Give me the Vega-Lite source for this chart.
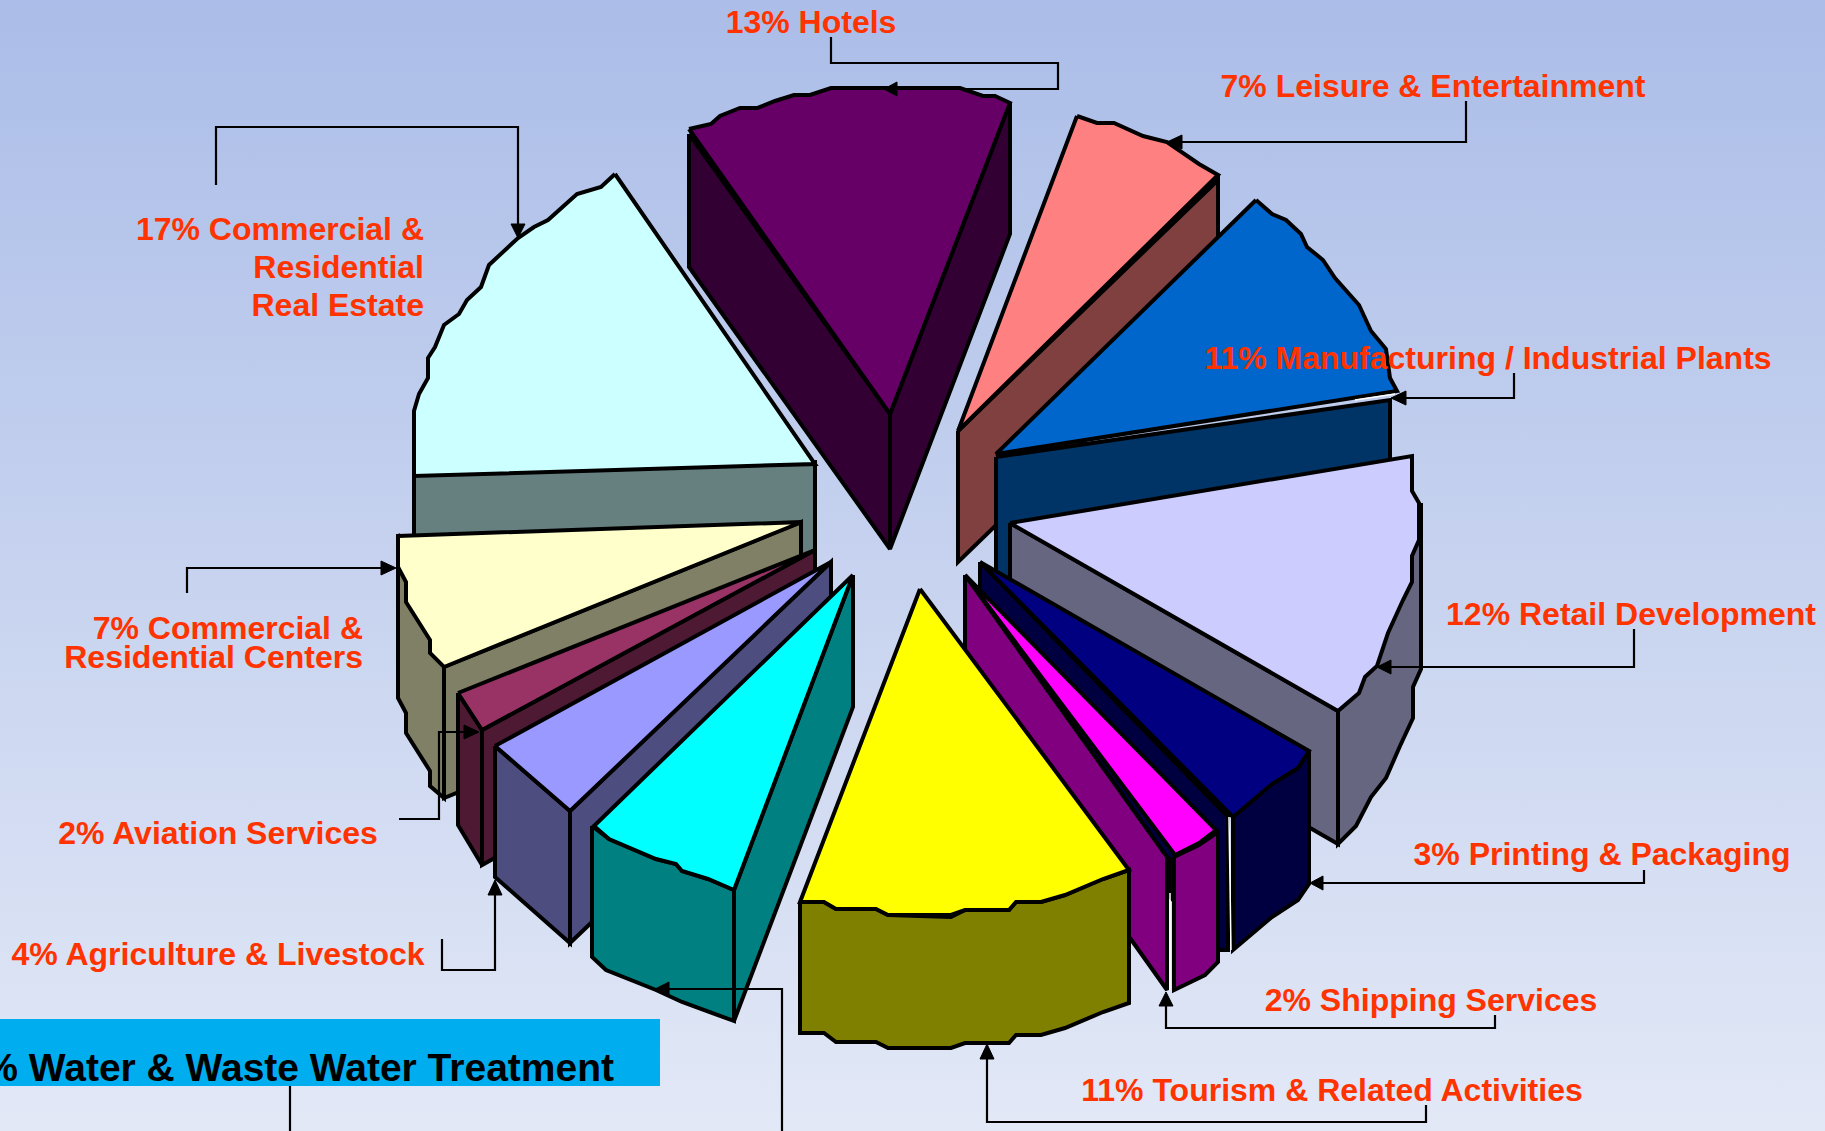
{"$schema":"https://vega.github.io/schema/vega-lite/v6.json","width":1825,"height":1131,"padding":0,"autosize":{"type":"none"},"config":{"view":{"stroke":null}},
"datasets":{
"bg":[{"x":0,"x2":1825,"y":0,"y2":1131}],
"box":[{"x":0,"x2":660,"y":1019,"y2":1086}],
"faces":[
{"f":"Hotels left","i":1,"x":689,"y":134},{"f":"Hotels left","i":2,"x":689,"y":267},{"f":"Hotels left","i":3,"x":890,"y":549},{"f":"Hotels left","i":4,"x":890,"y":414},{"f":"Hotels left","i":5,"x":689,"y":134},
{"f":"Hotels right","i":1,"x":890,"y":414},{"f":"Hotels right","i":2,"x":1010,"y":103},{"f":"Hotels right","i":3,"x":1010,"y":234},{"f":"Hotels right","i":4,"x":890,"y":549},{"f":"Hotels right","i":5,"x":890,"y":414},
{"f":"Hotels top","i":1,"x":689,"y":129},{"f":"Hotels top","i":2,"x":711,"y":124},{"f":"Hotels top","i":3,"x":720,"y":116},{"f":"Hotels top","i":4,"x":740,"y":108},{"f":"Hotels top","i":5,"x":757,"y":108},{"f":"Hotels top","i":6,"x":775,"y":101},{"f":"Hotels top","i":7,"x":794,"y":95},{"f":"Hotels top","i":8,"x":810,"y":95},{"f":"Hotels top","i":9,"x":831,"y":88},{"f":"Hotels top","i":10,"x":960,"y":88},{"f":"Hotels top","i":11,"x":983,"y":96},{"f":"Hotels top","i":12,"x":995,"y":96},{"f":"Hotels top","i":13,"x":1010,"y":103},{"f":"Hotels top","i":14,"x":890,"y":414},{"f":"Hotels top","i":15,"x":689,"y":129},
{"f":"Leisure side","i":1,"x":958,"y":431},{"f":"Leisure side","i":2,"x":1218,"y":180},{"f":"Leisure side","i":3,"x":1218,"y":310},{"f":"Leisure side","i":4,"x":958,"y":562},{"f":"Leisure side","i":5,"x":958,"y":431},
{"f":"Leisure top","i":1,"x":1077,"y":116},{"f":"Leisure top","i":2,"x":1097,"y":123},{"f":"Leisure top","i":3,"x":1114,"y":123},{"f":"Leisure top","i":4,"x":1143,"y":136},{"f":"Leisure top","i":5,"x":1167,"y":142},{"f":"Leisure top","i":6,"x":1199,"y":164},{"f":"Leisure top","i":7,"x":1218,"y":175},{"f":"Leisure top","i":8,"x":958,"y":431},{"f":"Leisure top","i":9,"x":1077,"y":116},
{"f":"Manufacturing side","i":1,"x":996,"y":457},{"f":"Manufacturing side","i":2,"x":1390,"y":400},{"f":"Manufacturing side","i":3,"x":1390,"y":530},{"f":"Manufacturing side","i":4,"x":996,"y":590},{"f":"Manufacturing side","i":5,"x":996,"y":457},
{"f":"Manufacturing top","i":1,"x":1256,"y":200},{"f":"Manufacturing top","i":2,"x":1272,"y":214},{"f":"Manufacturing top","i":3,"x":1286,"y":220},{"f":"Manufacturing top","i":4,"x":1301,"y":234},{"f":"Manufacturing top","i":5,"x":1307,"y":247},{"f":"Manufacturing top","i":6,"x":1323,"y":260},{"f":"Manufacturing top","i":7,"x":1335,"y":278},{"f":"Manufacturing top","i":8,"x":1359,"y":305},{"f":"Manufacturing top","i":9,"x":1371,"y":331},{"f":"Manufacturing top","i":10,"x":1386,"y":349},{"f":"Manufacturing top","i":11,"x":1390,"y":378},{"f":"Manufacturing top","i":12,"x":1397,"y":391},{"f":"Manufacturing top","i":13,"x":996,"y":454},{"f":"Manufacturing top","i":14,"x":1256,"y":200},
{"f":"Estate side","i":1,"x":414,"y":474},{"f":"Estate side","i":2,"x":815,"y":462},{"f":"Estate side","i":3,"x":815,"y":592},{"f":"Estate side","i":4,"x":414,"y":605},{"f":"Estate side","i":5,"x":414,"y":474},
{"f":"Estate top","i":1,"x":615,"y":174},{"f":"Estate top","i":2,"x":601,"y":187},{"f":"Estate top","i":3,"x":577,"y":194},{"f":"Estate top","i":4,"x":548,"y":220},{"f":"Estate top","i":5,"x":534,"y":227},{"f":"Estate top","i":6,"x":518,"y":238},{"f":"Estate top","i":7,"x":489,"y":265},{"f":"Estate top","i":8,"x":481,"y":287},{"f":"Estate top","i":9,"x":467,"y":300},{"f":"Estate top","i":10,"x":459,"y":314},{"f":"Estate top","i":11,"x":444,"y":325},{"f":"Estate top","i":12,"x":435,"y":347},{"f":"Estate top","i":13,"x":428,"y":358},{"f":"Estate top","i":14,"x":428,"y":378},{"f":"Estate top","i":15,"x":419,"y":394},{"f":"Estate top","i":16,"x":414,"y":411},{"f":"Estate top","i":17,"x":414,"y":476},{"f":"Estate top","i":18,"x":815,"y":464},{"f":"Estate top","i":19,"x":615,"y":174},
{"f":"Retail outer","i":1,"x":1421,"y":503},{"f":"Retail outer","i":2,"x":1421,"y":669},{"f":"Retail outer","i":3,"x":1413,"y":687},{"f":"Retail outer","i":4,"x":1413,"y":718},{"f":"Retail outer","i":5,"x":1400,"y":746},{"f":"Retail outer","i":6,"x":1386,"y":778},{"f":"Retail outer","i":7,"x":1371,"y":797},{"f":"Retail outer","i":8,"x":1356,"y":826},{"f":"Retail outer","i":9,"x":1338,"y":844},{"f":"Retail outer","i":10,"x":1338,"y":711},{"f":"Retail outer","i":11,"x":1421,"y":503},
{"f":"Retail inner","i":1,"x":1010,"y":523},{"f":"Retail inner","i":2,"x":1338,"y":711},{"f":"Retail inner","i":3,"x":1338,"y":844},{"f":"Retail inner","i":4,"x":1010,"y":655},{"f":"Retail inner","i":5,"x":1010,"y":523},
{"f":"Retail top","i":1,"x":1010,"y":523},{"f":"Retail top","i":2,"x":1412,"y":456},{"f":"Retail top","i":3,"x":1412,"y":491},{"f":"Retail top","i":4,"x":1419,"y":503},{"f":"Retail top","i":5,"x":1419,"y":540},{"f":"Retail top","i":6,"x":1412,"y":556},{"f":"Retail top","i":7,"x":1412,"y":582},{"f":"Retail top","i":8,"x":1403,"y":600},{"f":"Retail top","i":9,"x":1388,"y":633},{"f":"Retail top","i":10,"x":1377,"y":666},{"f":"Retail top","i":11,"x":1365,"y":677},{"f":"Retail top","i":12,"x":1359,"y":693},{"f":"Retail top","i":13,"x":1338,"y":711},{"f":"Retail top","i":14,"x":1010,"y":523},
{"f":"Printing wall","i":1,"x":980,"y":562},{"f":"Printing wall","i":2,"x":1228,"y":817},{"f":"Printing wall","i":3,"x":1228,"y":950},{"f":"Printing wall","i":4,"x":1219,"y":950},{"f":"Printing wall","i":5,"x":980,"y":690},{"f":"Printing wall","i":6,"x":980,"y":562},
{"f":"Printing outer","i":1,"x":1233,"y":817},{"f":"Printing outer","i":2,"x":1272,"y":784},{"f":"Printing outer","i":3,"x":1298,"y":768},{"f":"Printing outer","i":4,"x":1309,"y":751},{"f":"Printing outer","i":5,"x":1309,"y":884},{"f":"Printing outer","i":6,"x":1298,"y":900},{"f":"Printing outer","i":7,"x":1272,"y":917},{"f":"Printing outer","i":8,"x":1233,"y":950},{"f":"Printing outer","i":9,"x":1233,"y":817},
{"f":"Printing top","i":1,"x":980,"y":562},{"f":"Printing top","i":2,"x":1309,"y":751},{"f":"Printing top","i":3,"x":1298,"y":768},{"f":"Printing top","i":4,"x":1272,"y":784},{"f":"Printing top","i":5,"x":1233,"y":817},{"f":"Printing top","i":6,"x":980,"y":562},
{"f":"Centers wall","i":1,"x":398,"y":534},{"f":"Centers wall","i":2,"x":398,"y":698},{"f":"Centers wall","i":3,"x":406,"y":713},{"f":"Centers wall","i":4,"x":406,"y":733},{"f":"Centers wall","i":5,"x":430,"y":771},{"f":"Centers wall","i":6,"x":430,"y":786},{"f":"Centers wall","i":7,"x":444,"y":798},{"f":"Centers wall","i":8,"x":444,"y":667},{"f":"Centers wall","i":9,"x":398,"y":534},
{"f":"Centers inner","i":1,"x":444,"y":667},{"f":"Centers inner","i":2,"x":801,"y":522},{"f":"Centers inner","i":3,"x":801,"y":653},{"f":"Centers inner","i":4,"x":444,"y":798},{"f":"Centers inner","i":5,"x":444,"y":667},
{"f":"Centers top","i":1,"x":398,"y":536},{"f":"Centers top","i":2,"x":802,"y":522},{"f":"Centers top","i":3,"x":444,"y":667},{"f":"Centers top","i":4,"x":430,"y":653},{"f":"Centers top","i":5,"x":430,"y":640},{"f":"Centers top","i":6,"x":406,"y":602},{"f":"Centers top","i":7,"x":406,"y":582},{"f":"Centers top","i":8,"x":398,"y":567},{"f":"Centers top","i":9,"x":398,"y":536},
{"f":"Aviation inner","i":1,"x":482,"y":730},{"f":"Aviation inner","i":2,"x":815,"y":550},{"f":"Aviation inner","i":3,"x":815,"y":680},{"f":"Aviation inner","i":4,"x":482,"y":865},{"f":"Aviation inner","i":5,"x":482,"y":730},
{"f":"Aviation wall","i":1,"x":458,"y":693},{"f":"Aviation wall","i":2,"x":482,"y":730},{"f":"Aviation wall","i":3,"x":482,"y":865},{"f":"Aviation wall","i":4,"x":458,"y":825},{"f":"Aviation wall","i":5,"x":458,"y":693},
{"f":"Aviation top","i":1,"x":458,"y":693},{"f":"Aviation top","i":2,"x":815,"y":550},{"f":"Aviation top","i":3,"x":482,"y":730},{"f":"Aviation top","i":4,"x":458,"y":693},
{"f":"Agriculture inner","i":1,"x":570,"y":811},{"f":"Agriculture inner","i":2,"x":831,"y":562},{"f":"Agriculture inner","i":3,"x":831,"y":694},{"f":"Agriculture inner","i":4,"x":570,"y":943},{"f":"Agriculture inner","i":5,"x":570,"y":811},
{"f":"Agriculture wall","i":1,"x":495,"y":746},{"f":"Agriculture wall","i":2,"x":570,"y":811},{"f":"Agriculture wall","i":3,"x":570,"y":943},{"f":"Agriculture wall","i":4,"x":495,"y":877},{"f":"Agriculture wall","i":5,"x":495,"y":746},
{"f":"Agriculture top","i":1,"x":495,"y":746},{"f":"Agriculture top","i":2,"x":831,"y":562},{"f":"Agriculture top","i":3,"x":570,"y":811},{"f":"Agriculture top","i":4,"x":495,"y":746},
{"f":"Water right","i":1,"x":853,"y":575},{"f":"Water right","i":2,"x":853,"y":707},{"f":"Water right","i":3,"x":734,"y":1021},{"f":"Water right","i":4,"x":734,"y":890},{"f":"Water right","i":5,"x":853,"y":575},
{"f":"Water front","i":1,"x":592,"y":826},{"f":"Water front","i":2,"x":609,"y":839},{"f":"Water front","i":3,"x":656,"y":859},{"f":"Water front","i":4,"x":676,"y":864},{"f":"Water front","i":5,"x":682,"y":871},{"f":"Water front","i":6,"x":708,"y":879},{"f":"Water front","i":7,"x":734,"y":890},{"f":"Water front","i":8,"x":734,"y":1021},{"f":"Water front","i":9,"x":682,"y":1002},{"f":"Water front","i":10,"x":656,"y":990},{"f":"Water front","i":11,"x":606,"y":970},{"f":"Water front","i":12,"x":592,"y":957},{"f":"Water front","i":13,"x":592,"y":826},
{"f":"Water top","i":1,"x":853,"y":575},{"f":"Water top","i":2,"x":594,"y":826},{"f":"Water top","i":3,"x":609,"y":839},{"f":"Water top","i":4,"x":656,"y":859},{"f":"Water top","i":5,"x":676,"y":864},{"f":"Water top","i":6,"x":682,"y":871},{"f":"Water top","i":7,"x":708,"y":879},{"f":"Water top","i":8,"x":734,"y":890},{"f":"Water top","i":9,"x":853,"y":575},
{"f":"Shipping top","i":1,"x":965,"y":575},{"f":"Shipping top","i":2,"x":1216,"y":830},{"f":"Shipping top","i":3,"x":1199,"y":843},{"f":"Shipping top","i":4,"x":1175,"y":855},{"f":"Shipping top","i":5,"x":965,"y":575},
{"f":"Shipping outer","i":1,"x":1174,"y":857},{"f":"Shipping outer","i":2,"x":1199,"y":845},{"f":"Shipping outer","i":3,"x":1218,"y":832},{"f":"Shipping outer","i":4,"x":1218,"y":962},{"f":"Shipping outer","i":5,"x":1205,"y":975},{"f":"Shipping outer","i":6,"x":1174,"y":990},{"f":"Shipping outer","i":7,"x":1174,"y":857},
{"f":"Shipping wall","i":1,"x":965,"y":575},{"f":"Shipping wall","i":2,"x":1167,"y":857},{"f":"Shipping wall","i":3,"x":1167,"y":990},{"f":"Shipping wall","i":4,"x":965,"y":706},{"f":"Shipping wall","i":5,"x":965,"y":575},
{"f":"Tourism front","i":1,"x":800,"y":902},{"f":"Tourism front","i":2,"x":824,"y":902},{"f":"Tourism front","i":3,"x":836,"y":909},{"f":"Tourism front","i":4,"x":876,"y":909},{"f":"Tourism front","i":5,"x":888,"y":915},{"f":"Tourism front","i":6,"x":951,"y":917},{"f":"Tourism front","i":7,"x":965,"y":910},{"f":"Tourism front","i":8,"x":1009,"y":910},{"f":"Tourism front","i":9,"x":1016,"y":902},{"f":"Tourism front","i":10,"x":1041,"y":902},{"f":"Tourism front","i":11,"x":1065,"y":895},{"f":"Tourism front","i":12,"x":1103,"y":879},{"f":"Tourism front","i":13,"x":1129,"y":870},{"f":"Tourism front","i":14,"x":1129,"y":1003},{"f":"Tourism front","i":15,"x":1103,"y":1012},{"f":"Tourism front","i":16,"x":1065,"y":1028},{"f":"Tourism front","i":17,"x":1041,"y":1035},{"f":"Tourism front","i":18,"x":1016,"y":1035},{"f":"Tourism front","i":19,"x":1009,"y":1043},{"f":"Tourism front","i":20,"x":965,"y":1043},{"f":"Tourism front","i":21,"x":951,"y":1048},{"f":"Tourism front","i":22,"x":888,"y":1048},{"f":"Tourism front","i":23,"x":876,"y":1042},{"f":"Tourism front","i":24,"x":836,"y":1042},{"f":"Tourism front","i":25,"x":824,"y":1033},{"f":"Tourism front","i":26,"x":800,"y":1033},{"f":"Tourism front","i":27,"x":800,"y":902},
{"f":"Tourism top","i":1,"x":920,"y":589},{"f":"Tourism top","i":2,"x":1129,"y":870},{"f":"Tourism top","i":3,"x":1103,"y":879},{"f":"Tourism top","i":4,"x":1065,"y":895},{"f":"Tourism top","i":5,"x":1041,"y":902},{"f":"Tourism top","i":6,"x":1016,"y":902},{"f":"Tourism top","i":7,"x":1009,"y":910},{"f":"Tourism top","i":8,"x":965,"y":910},{"f":"Tourism top","i":9,"x":951,"y":915},{"f":"Tourism top","i":10,"x":888,"y":915},{"f":"Tourism top","i":11,"x":876,"y":909},{"f":"Tourism top","i":12,"x":836,"y":909},{"f":"Tourism top","i":13,"x":824,"y":902},{"f":"Tourism top","i":14,"x":800,"y":902},{"f":"Tourism top","i":15,"x":920,"y":589}
],
"leaders":[
{"l":"Hotels","i":1,"x":831,"y":37},{"l":"Hotels","i":2,"x":831,"y":63},{"l":"Hotels","i":3,"x":1058,"y":63},{"l":"Hotels","i":4,"x":1058,"y":89},{"l":"Hotels","i":5,"x":892,"y":89},
{"l":"Leisure","i":1,"x":1466,"y":101},{"l":"Leisure","i":2,"x":1466,"y":142},{"l":"Leisure","i":3,"x":1180,"y":142},
{"l":"Manufacturing","i":1,"x":1514,"y":373},{"l":"Manufacturing","i":2,"x":1514,"y":398},{"l":"Manufacturing","i":3,"x":1404,"y":398},
{"l":"Retail","i":1,"x":1634,"y":629},{"l":"Retail","i":2,"x":1634,"y":667},{"l":"Retail","i":3,"x":1390,"y":667},
{"l":"Printing","i":1,"x":1644,"y":870},{"l":"Printing","i":2,"x":1644,"y":883},{"l":"Printing","i":3,"x":1322,"y":883},
{"l":"Shipping","i":1,"x":1495,"y":1015},{"l":"Shipping","i":2,"x":1495,"y":1028},{"l":"Shipping","i":3,"x":1166,"y":1028},{"l":"Shipping","i":4,"x":1166,"y":1005},
{"l":"Tourism","i":1,"x":1426,"y":1105},{"l":"Tourism","i":2,"x":1426,"y":1122},{"l":"Tourism","i":3,"x":987,"y":1122},{"l":"Tourism","i":4,"x":987,"y":1058},
{"l":"Water","i":1,"x":782,"y":1131},{"l":"Water","i":2,"x":782,"y":989},{"l":"Water","i":3,"x":668,"y":989},
{"l":"WaterBox","i":1,"x":290,"y":1086},{"l":"WaterBox","i":2,"x":290,"y":1131},
{"l":"Agriculture","i":1,"x":442,"y":939},{"l":"Agriculture","i":2,"x":442,"y":970},{"l":"Agriculture","i":3,"x":495,"y":970},{"l":"Agriculture","i":4,"x":495,"y":894},
{"l":"Aviation","i":1,"x":399,"y":819},{"l":"Aviation","i":2,"x":439,"y":819},{"l":"Aviation","i":3,"x":439,"y":732},{"l":"Aviation","i":4,"x":465,"y":732},
{"l":"Centers","i":1,"x":187,"y":593},{"l":"Centers","i":2,"x":187,"y":568},{"l":"Centers","i":3,"x":382,"y":568},
{"l":"Estate","i":1,"x":216,"y":185},{"l":"Estate","i":2,"x":216,"y":127},{"l":"Estate","i":3,"x":518,"y":127},{"l":"Estate","i":4,"x":518,"y":225},
{"l":"ShippingJoin","i":1,"x":1170,"y":857},{"l":"ShippingJoin","i":2,"x":1170,"y":893}
],
"heads":[
{"l":"Hotels","i":1,"x":884,"y":89},{"l":"Hotels","i":2,"x":897,"y":82},{"l":"Hotels","i":3,"x":897,"y":96},{"l":"Hotels","i":4,"x":884,"y":89},
{"l":"Leisure","i":1,"x":1167,"y":142},{"l":"Leisure","i":2,"x":1182,"y":135},{"l":"Leisure","i":3,"x":1182,"y":149},{"l":"Leisure","i":4,"x":1167,"y":142},
{"l":"Manufacturing","i":1,"x":1391,"y":398},{"l":"Manufacturing","i":2,"x":1406,"y":391},{"l":"Manufacturing","i":3,"x":1406,"y":405},{"l":"Manufacturing","i":4,"x":1391,"y":398},
{"l":"Retail","i":1,"x":1377,"y":667},{"l":"Retail","i":2,"x":1391,"y":660},{"l":"Retail","i":3,"x":1391,"y":674},{"l":"Retail","i":4,"x":1377,"y":667},
{"l":"Printing","i":1,"x":1310,"y":883},{"l":"Printing","i":2,"x":1323,"y":876},{"l":"Printing","i":3,"x":1323,"y":890},{"l":"Printing","i":4,"x":1310,"y":883},
{"l":"Shipping","i":1,"x":1166,"y":992},{"l":"Shipping","i":2,"x":1159,"y":1006},{"l":"Shipping","i":3,"x":1173,"y":1006},{"l":"Shipping","i":4,"x":1166,"y":992},
{"l":"Tourism","i":1,"x":987,"y":1044},{"l":"Tourism","i":2,"x":980,"y":1059},{"l":"Tourism","i":3,"x":994,"y":1059},{"l":"Tourism","i":4,"x":987,"y":1044},
{"l":"Water","i":1,"x":655,"y":989},{"l":"Water","i":2,"x":669,"y":982},{"l":"Water","i":3,"x":669,"y":996},{"l":"Water","i":4,"x":655,"y":989},
{"l":"Agriculture","i":1,"x":495,"y":880},{"l":"Agriculture","i":2,"x":488,"y":895},{"l":"Agriculture","i":3,"x":502,"y":895},{"l":"Agriculture","i":4,"x":495,"y":880},
{"l":"Aviation","i":1,"x":479,"y":732},{"l":"Aviation","i":2,"x":464,"y":725},{"l":"Aviation","i":3,"x":464,"y":739},{"l":"Aviation","i":4,"x":479,"y":732},
{"l":"Centers","i":1,"x":396,"y":568},{"l":"Centers","i":2,"x":381,"y":561},{"l":"Centers","i":3,"x":381,"y":575},{"l":"Centers","i":4,"x":396,"y":568},
{"l":"Estate","i":1,"x":518,"y":238},{"l":"Estate","i":2,"x":511,"y":224},{"l":"Estate","i":3,"x":525,"y":224},{"l":"Estate","i":4,"x":518,"y":238}
],
"gaps":[
{"l":"a","i":1,"x":1229,"y":817},{"l":"a","i":2,"x":1231,"y":950},
{"l":"b","i":1,"x":1170,"y":893},{"l":"b","i":2,"x":1170,"y":990},
{"l":"c","i":1,"x":1355,"y":400},{"l":"c","i":2,"x":1395,"y":394}
],
"labels":[
{"t":"13% Hotels","x":811,"y":23},{"t":"7% Leisure & Entertainment","x":1433,"y":87},{"t":"11% Manufacturing / Industrial Plants","x":1488,"y":359},{"t":"12% Retail Development","x":1631,"y":615},{"t":"3% Printing & Packaging","x":1602,"y":855},{"t":"2% Shipping Services","x":1431,"y":1001},{"t":"11% Tourism & Related Activities","x":1332,"y":1091},{"t":"4% Agriculture & Livestock","x":218,"y":955},{"t":"2% Aviation Services","x":218,"y":834}
],
"labelsRight":[
{"t":"17% Commercial &","x":424,"y":230},{"t":"Residential","x":424,"y":268},{"t":"Real Estate","x":424,"y":306},{"t":"7% Commercial &","x":363,"y":629},{"t":"Residential Centers","x":363,"y":658}
],
"boxLabel":[{"t":"11% Water & Waste Water Treatment","x":614,"y":1069}]
},
"layer":[
{"data":{"name":"bg"},"mark":{"type":"rect","fill":{"gradient":"linear","x1":0,"y1":0,"x2":0,"y2":1,"stops":[{"offset":0,"color":"#abbde8"},{"offset":1,"color":"#e2e8f6"}]}},"encoding":{"x":{"field":"x","type":"quantitative","scale":{"domain":[0,1825]},"axis":null},"x2":{"field":"x2"},"y":{"field":"y","type":"quantitative","scale":{"domain":[1131,0]},"axis":null},"y2":{"field":"y2"}}},
{"data":{"name":"faces"},"mark":{"type":"line","filled":true,"stroke":"#000000","strokeWidth":4,"strokeJoin":"miter","strokeMiterLimit":3},"encoding":{"x":{"field":"x","type":"quantitative","scale":{"domain":[0,1825]},"axis":null},"y":{"field":"y","type":"quantitative","scale":{"domain":[1131,0]},"axis":null},"order":{"field":"i","type":"quantitative"},"color":{"field":"f","type":"nominal","legend":null,"sort":null,"scale":{"domain":["Hotels left","Hotels right","Hotels top","Leisure side","Leisure top","Manufacturing side","Manufacturing top","Estate side","Estate top","Retail outer","Retail inner","Retail top","Printing wall","Printing outer","Printing top","Centers wall","Centers inner","Centers top","Aviation inner","Aviation wall","Aviation top","Agriculture inner","Agriculture wall","Agriculture top","Water right","Water front","Water top","Shipping top","Shipping outer","Shipping wall","Tourism front","Tourism top"],"range":["#330033","#330033","#660066","#804040","#ff8080","#003366","#0066cc","#668080","#ccffff","#666680","#666680","#ccccff","#000040","#000040","#000080","#808066","#808066","#ffffcc","#4d1933","#4d1933","#993366","#4d4d80","#4d4d80","#9999ff","#008080","#008080","#00ffff","#ff00ff","#800080","#800080","#808000","#ffff00"]}}}},
{"data":{"name":"gaps"},"mark":{"type":"line","stroke":"#ffffff","strokeWidth":1.5},"encoding":{"x":{"field":"x","type":"quantitative","scale":{"domain":[0,1825]},"axis":null},"y":{"field":"y","type":"quantitative","scale":{"domain":[1131,0]},"axis":null},"order":{"field":"i","type":"quantitative"},"detail":{"field":"l"}}},
{"data":{"name":"box"},"mark":{"type":"rect","fill":"#00aeef"},"encoding":{"x":{"field":"x","type":"quantitative","scale":{"domain":[0,1825]},"axis":null},"x2":{"field":"x2"},"y":{"field":"y","type":"quantitative","scale":{"domain":[1131,0]},"axis":null},"y2":{"field":"y2"}}},
{"data":{"name":"leaders"},"mark":{"type":"line","stroke":"#000000","strokeWidth":2.2,"strokeJoin":"miter"},"encoding":{"x":{"field":"x","type":"quantitative","scale":{"domain":[0,1825]},"axis":null},"y":{"field":"y","type":"quantitative","scale":{"domain":[1131,0]},"axis":null},"order":{"field":"i","type":"quantitative"},"detail":{"field":"l"}}},
{"data":{"name":"heads"},"mark":{"type":"line","filled":true,"fill":"#000000","stroke":"#000000","strokeWidth":1},"encoding":{"x":{"field":"x","type":"quantitative","scale":{"domain":[0,1825]},"axis":null},"y":{"field":"y","type":"quantitative","scale":{"domain":[1131,0]},"axis":null},"order":{"field":"i","type":"quantitative"},"detail":{"field":"l"}}},
{"data":{"name":"labels"},"mark":{"type":"text","font":"Liberation Sans","fontWeight":"bold","fontSize":32,"fill":"#ff3300","align":"center","baseline":"middle"},"encoding":{"x":{"field":"x","type":"quantitative","scale":{"domain":[0,1825]},"axis":null},"y":{"field":"y","type":"quantitative","scale":{"domain":[1131,0]},"axis":null},"text":{"field":"t"}}},
{"data":{"name":"labelsRight"},"mark":{"type":"text","font":"Liberation Sans","fontWeight":"bold","fontSize":32,"fill":"#ff3300","align":"right","baseline":"middle"},"encoding":{"x":{"field":"x","type":"quantitative","scale":{"domain":[0,1825]},"axis":null},"y":{"field":"y","type":"quantitative","scale":{"domain":[1131,0]},"axis":null},"text":{"field":"t"}}},
{"data":{"name":"boxLabel"},"mark":{"type":"text","font":"Liberation Sans","fontWeight":"bold","fontSize":39,"fill":"#000000","align":"right","baseline":"middle"},"encoding":{"x":{"field":"x","type":"quantitative","scale":{"domain":[0,1825]},"axis":null},"y":{"field":"y","type":"quantitative","scale":{"domain":[1131,0]},"axis":null},"text":{"field":"t"}}}
]}
